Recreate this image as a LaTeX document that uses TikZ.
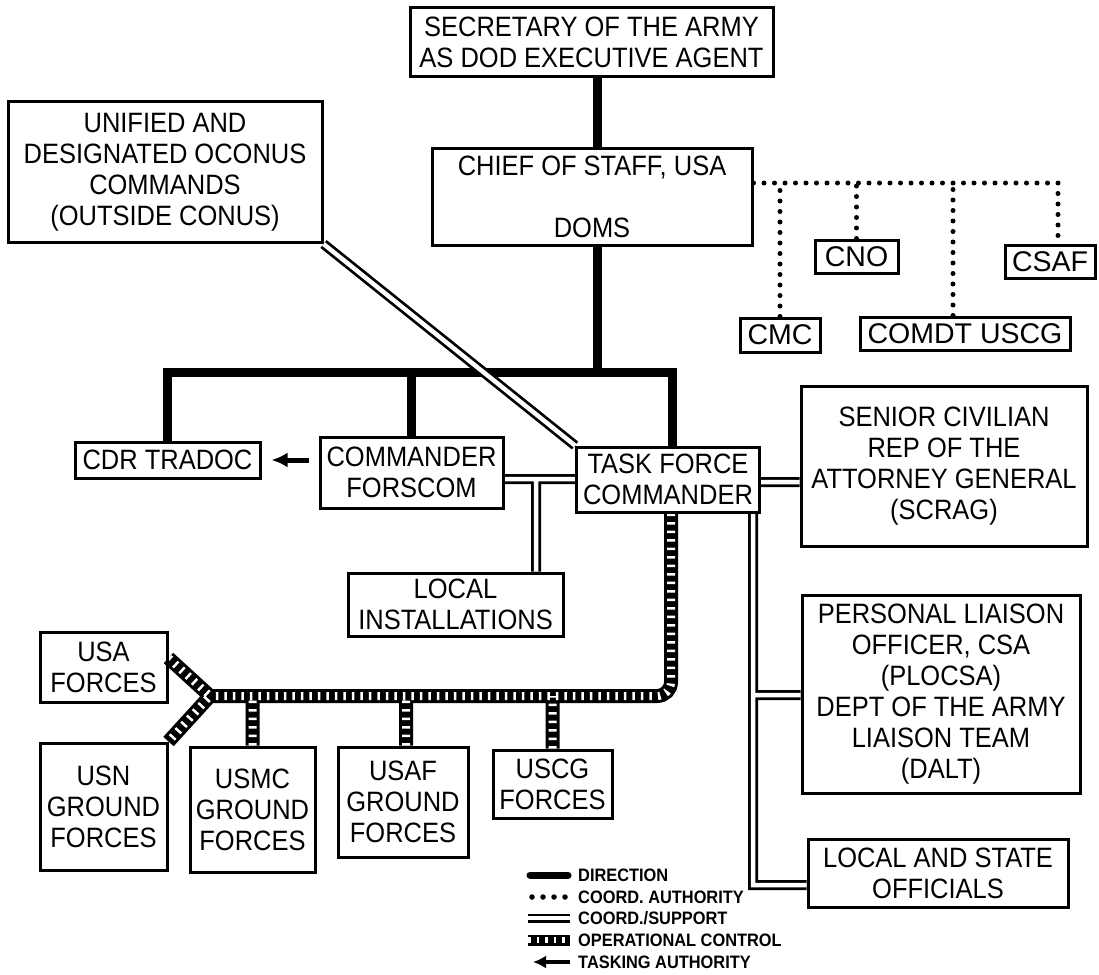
\documentclass[tikz,border=0pt]{standalone}
\usepackage{fontspec}
\setmainfont{Liberation Sans}[FakeStretch=0.91]
\newfontfamily\plainsans{Liberation Sans}
\usetikzlibrary{arrows.meta}
\pgfdeclarelayer{background}
\pgfsetlayers{background,main}

\begin{document}
\begin{tikzpicture}[x=1pt, y=-1pt,
    orgbox/.style = {draw, line width=3pt, inner sep=0pt, align=center,
                     font=\fontsize{28}{31}\selectfont},
    smallbox/.style = {orgbox, font=\plainsans\fontsize{28.5}{31}\selectfont},
    direction/.style = {line width=9pt, line join=miter},
    coordauth/.style = {line width=5pt, line cap=round, dash pattern=on 0pt off 10.5pt},
    supblack/.style = {line width=10pt},
    supwhite/.style = {white, line width=4.5pt},
    opblack/.style = {line width=14pt},
    opwhite/.style = {white, line width=8pt, dash pattern=on 2.5pt off 6pt},
    tasking/.style = {line width=5pt, -{Latex[length=16pt,width=15pt]}},
    legendtext/.style = {anchor=west, inner sep=0pt, font=\fontsize{18}{18}\bfseries\selectfont}
  ]
  \useasboundingbox (0,0) rectangle (1099,974);

  % top of the chain
  \node[orgbox, minimum width=363, minimum height=68] (sec) at (591.5,42)
    {SECRETARY OF THE ARMY\\AS DOD EXECUTIVE AGENT};
  \node[orgbox, minimum width=320, minimum height=97] (chief) at (592,197)
    {CHIEF OF STAFF, USA\\[31pt]DOMS};
  \node[orgbox, minimum width=314, minimum height=141] (unified) at (165,172)
    {UNIFIED AND\\DESIGNATED OCONUS\\COMMANDS\\(OUTSIDE CONUS)};

  % other chiefs
  \node[smallbox, minimum width=83, minimum height=33] (cno) at (856.5,256.5) {CNO};
  \node[smallbox, minimum width=90, minimum height=33] (csaf) at (1050,261.5) {CSAF};
  \node[smallbox, minimum width=80, minimum height=34] (cmc) at (780,335) {CMC};
  \node[smallbox, minimum width=210, minimum height=33] (comdt) at (965,333.5) {COMDT USCG};

  % commands
  \node[orgbox, minimum width=185, minimum height=36] (tradoc) at (167.5,460) {CDR TRADOC};
  \node[orgbox, minimum width=183, minimum height=71] (forscom) at (411.5,472.5) {COMMANDER\\FORSCOM};
  \node[orgbox, minimum width=183, minimum height=65] (tf) at (668,479.5) {TASK FORCE\\COMMANDER};
  \node[orgbox, minimum width=286, minimum height=160] (scrag) at (944,466)
    {SENIOR CIVILIAN\\REP OF THE\\ATTORNEY GENERAL\\(SCRAG)};
  \node[orgbox, minimum width=278, minimum height=198] (plocsa) at (941,694)
    {PERSONAL LIAISON\\OFFICER, CSA\\(PLOCSA)\\DEPT OF THE ARMY\\LIAISON TEAM\\(DALT)};
  \node[orgbox, minimum width=260, minimum height=68] (officials) at (938,873)
    {LOCAL AND STATE\\OFFICIALS};
  \node[orgbox, minimum width=215, minimum height=63] (install) at (455.5,604.5) {LOCAL\\INSTALLATIONS};

  % forces
  \node[orgbox, minimum width=127, minimum height=70] (usa) at (103.5,667) {USA\\FORCES};
  \node[orgbox, minimum width=127, minimum height=127] (usn) at (103.5,806.5) {USN\\GROUND\\FORCES};
  \node[orgbox, minimum width=125, minimum height=125] (usmc) at (252.5,809.5) {USMC\\GROUND\\FORCES};
  \node[orgbox, minimum width=130, minimum height=110] (usaf) at (403,802) {USAF\\GROUND\\FORCES};
  \node[orgbox, minimum width=119, minimum height=68] (uscg) at (552.5,784) {USCG\\FORCES};

  % legend
  \node[legendtext] (lgdir) at (578,875) {DIRECTION};
  \node[legendtext] (lgauth) at (578,897) {COORD. AUTHORITY};
  \node[legendtext] (lgsup) at (578,918) {COORD./SUPPORT};
  \node[legendtext] (lgop) at (578,940) {OPERATIONAL CONTROL};
  \node[legendtext] (lgtask) at (578,962) {TASKING AUTHORITY};

  \begin{pgfonlayer}{background}
    \fill[white] (0,0) rectangle (1099,974);
    % direction
    \coordinate (spine) at (597,372);
    \draw[direction] (sec.south -| spine) -- (chief.north -| spine);
    \draw[direction] (chief.south -| spine) -- (spine);
    \draw[direction] (tradoc.north) |- (672,372) -- (tf.north -| 672,0);
    \draw[direction] (forscom.north) -- (forscom.north |- spine);

    % coordinating authority
    \coordinate (dotend) at (1058,183);
    \draw[coordauth] (chief.east |- dotend) -- (dotend) -- (dotend |- csaf.north);
    \draw[coordauth] (cmc.north) -- (cmc.north |- dotend);
    \draw[coordauth] (cno.north) -- (cno.north |- dotend);
    \draw[coordauth] (comdt.north -| 953,0) -- (953,183);

    % coordination / support
    \def\supportlines{
      (unified.south east) -- (tf.north west)
      (forscom.east |- 0,479) -- (tf.west |- 0,479)
      (536,479) -- (install.north -| 536,0)
      (tf.east |- 0,482) -- (scrag.west |- 0,482)
      (tf.south -| 753,0) |- (officials.west |- 0,885)
      (753,695) -- (plocsa.west |- 0,695)
    }
    \draw[supblack] \supportlines;
    \draw[supwhite] \supportlines;

    % operational control
    \coordinate (opjoin) at (210,696);
    \def\opconlines{
      (tf.south -| 671,0) [rounded corners=14pt] |- (opjoin) [sharp corners]
      (usa.east |- 0,658) -- (opjoin) -- (usn.north east)
      (usmc.north) -- (usmc.north |- opjoin)
      (usaf.north -| 406,0) -- (406,696)
      (uscg.north) -- (uscg.north |- opjoin)
    }
    \draw[opblack] \opconlines;
    \draw[opwhite] \opconlines;

    % tasking authority
    \draw[tasking, shorten <=10pt, shorten >=10pt] (forscom.west |- tradoc.east) -- (tradoc.east);

    % legend samples
    \draw[line width=7pt, line cap=round] ([xshift=-48pt]lgdir.west) -- ([xshift=-10pt]lgdir.west);
    \draw[coordauth, line width=5.5pt, dash pattern=on 0pt off 11pt] ([xshift=-46pt]lgauth.west) -- ([xshift=-10pt]lgauth.west);
    \draw[supblack, line width=9pt] ([xshift=-50pt]lgsup.west) -- ([xshift=-8pt]lgsup.west);
    \draw[supwhite, line width=4pt] ([xshift=-50pt]lgsup.west) -- ([xshift=-8pt]lgsup.west);
    \draw[opblack, line width=11pt] ([xshift=-50pt]lgop.west) -- ([xshift=-8pt]lgop.west);
    \draw[opwhite, line width=6pt] ([xshift=-50pt]lgop.west) -- ([xshift=-8pt]lgop.west);
    \draw[tasking, line width=4.5pt, -{Latex[length=13pt,width=13pt]}] ([xshift=-8pt]lgtask.west) -- ([xshift=-45pt]lgtask.west);
  \end{pgfonlayer}
\end{tikzpicture}
\end{document}
